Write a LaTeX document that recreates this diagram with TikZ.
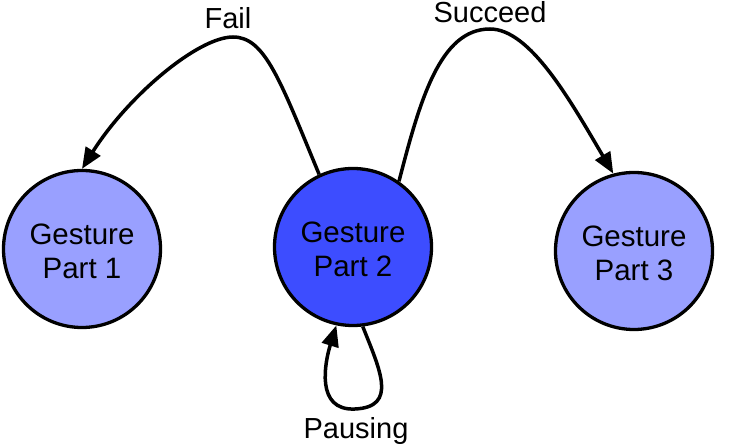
\documentclass[tikz,border=0pt]{standalone}
\usepackage{fontspec}
\setmainfont{Liberation Sans}
\usetikzlibrary{arrows.meta}
\definecolor{lightblue}{RGB}{153,160,255}
\definecolor{darkblue}{RGB}{61,77,255}
\newcommand{\toppad}{\rule{0pt}{26pt}}
\tikzset{
  state/.style={circle, draw=black, line width=3.3pt, minimum size=157pt, inner sep=0pt,
    align=center, font=\fontsize{29.5pt}{34pt}\selectfont},
  conn/.style={line width=3.5pt, -{Triangle[length=21pt,width=17pt]}},
  lbl/.style={font=\fontsize{29pt}{34pt}\selectfont, anchor=base, inner sep=0pt}
}
\begin{document}
\begin{tikzpicture}[x=1pt,y=-1pt]
\useasboundingbox (0,0) rectangle (732,446);
\node[state, fill=lightblue] (c1) at (82,249) {\toppad Gesture\\Part 1};
\node[state, fill=darkblue] (c2) at (353,247) {\toppad Gesture\\Part 2};
\node[state, fill=lightblue] (c3) at (634,251) {\toppad Gesture\\Part 3};
\node[lbl] (fail) at (228,29) {Fail};
\node[lbl] (succ) at (490,22.5) {Succeed};
\node[lbl] (paus) at (356,439) {Pausing};
\draw[conn] (c2.115) .. controls (280,80) and (265,37) .. (233,37)
  .. controls (198,37) and (128,96) .. (c1.90);
\draw[conn] (c2.55) .. controls (420,100) and (440,29) .. (490,29)
  .. controls (530,29) and (570,100) .. (c3.105);
\draw[conn] (c2.-83) .. controls (380,370) and (398,407) .. (355,409)
  .. controls (315,411) and (325,362) .. (c2.-102);
\end{tikzpicture}
\end{document}
